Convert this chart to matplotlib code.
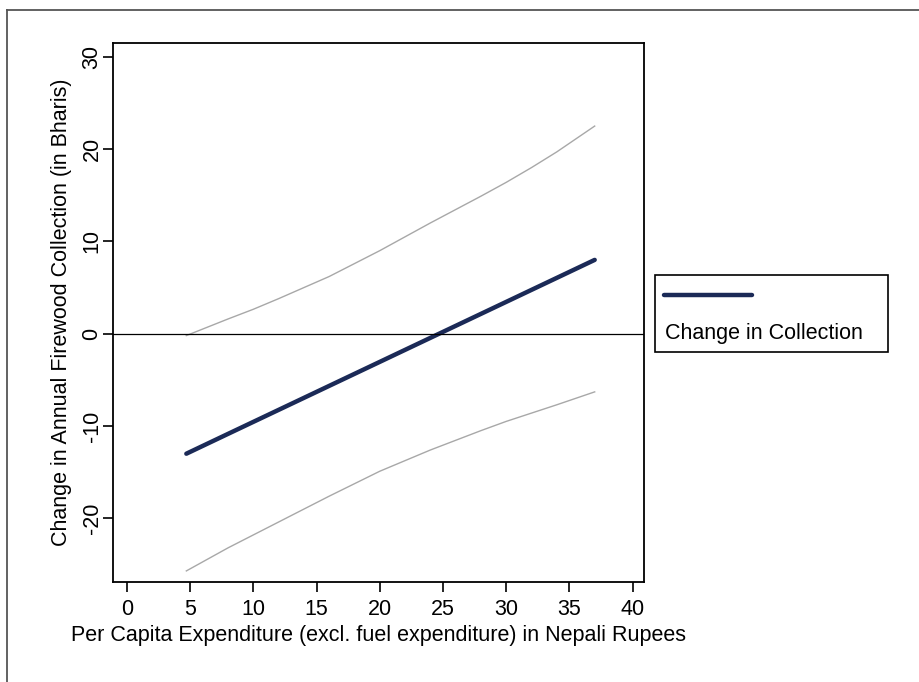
import matplotlib
matplotlib.use("Agg")
import matplotlib.pyplot as plt
from matplotlib.lines import Line2D
from matplotlib.patches import Rectangle

plt.rcParams['font.family'] = ['Liberation Sans', 'DejaVu Sans']

# values
expend = [4.7, 8, 10, 12, 16, 20, 24, 28, 30, 32, 34, 37]
change = [-13.0, -10.85, -9.55, -8.25, -5.65, -3.05, -0.45, 2.15, 3.45, 4.75, 6.05, 8.0]
upper = [-0.2, 1.6, 2.65, 3.8, 6.2, 9.0, 12.0, 14.9, 16.4, 18.0, 19.7, 22.5]
lower = [-25.7, -23.2, -21.8, -20.4, -17.6, -14.9, -12.6, -10.5, -9.5, -8.6, -7.7, -6.3]
xticks = [0, 5, 10, 15, 20, 25, 30, 35, 40]
yticks = [-20, -10, 0, 10, 20, 30]
legend_label = "Change in Collection"

W, H = 920, 682
fs = 15.5
fig = plt.figure(figsize=(9.2, 6.82), dpi=100)
ax = fig.add_axes([113 / W, 1 - 582 / H, (644 - 113) / W, (582 - 43) / H])

ax.plot(expend, upper, color='#a8a8a8', lw=1.0)
ax.plot(expend, lower, color='#a8a8a8', lw=1.0)
ax.plot(expend, change, color='#1b2a57', lw=3.2, solid_capstyle='round')
ax.axhline(0, color='black', lw=0.9)

ax.set_xlim(-1.1, 40.9)
ax.set_ylim(-26.9, 31.5)
ax.set_xticks(xticks)
ax.set_yticks(yticks)
ax.set_yticklabels([str(v) for v in yticks])
ax.tick_params(length=7.5, width=1.2, labelsize=fs, colors='black')
ax.tick_params(axis='x', pad=5)
ax.tick_params(axis='y', pad=0)
for lab in ax.get_yticklabels():
    lab.set_rotation(90)
    lab.set_va('center')
for s in ax.spines.values():
    s.set_linewidth(1.3)

ax.set_xlabel("Per Capita Expenditure (excl. fuel expenditure) in Nepali Rupees",
              fontsize=fs, labelpad=3)
ax.set_ylabel("Change in Annual Firewood Collection (in Bharis)", fontsize=fs, labelpad=7)

# legend box, Stata style: key above label
fig.add_artist(Rectangle((655 / W, 1 - 352 / H), (888 - 655) / W, (352 - 275) / H,
                         transform=fig.transFigure, fill=False, ec='black', lw=1.2))
fig.add_artist(Line2D([664 / W, 752 / W], [1 - 295 / H, 1 - 295 / H], color='#1b2a57',
                      lw=3.2, solid_capstyle='round', transform=fig.transFigure))
fig.text(665 / W, 1 - 333 / H, legend_label, fontsize=fs, va='center', ha='left')

# outer frame of the graph region (cropped on right and bottom)
fig.add_artist(Line2D([7 / W, 7 / W], [0, 1 - 10 / H], color='#555555', lw=1.3,
                      transform=fig.transFigure))
fig.add_artist(Line2D([7 / W, 1], [1 - 10 / H, 1 - 10 / H], color='#555555', lw=1.3,
                      transform=fig.transFigure))

fig.savefig('out.png', dpi=100, facecolor='white')
